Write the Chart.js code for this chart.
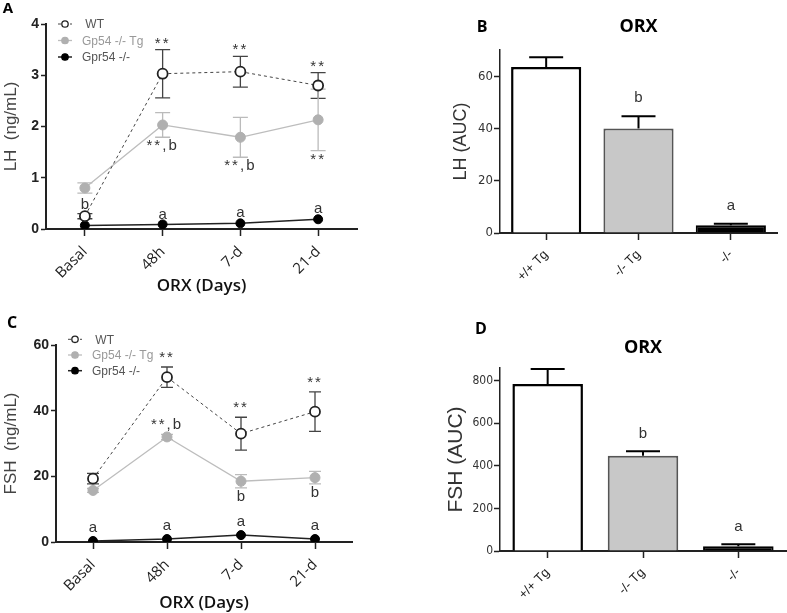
<!DOCTYPE html>
<html>
<head>
<meta charset="utf-8">
<script src="https://cdn.jsdelivr.net/npm/chart.js@4.4.0/dist/chart.umd.min.js"></script>
<style>
  body { margin: 0; background: #fff; width: 787px; height: 613px; position: relative; overflow: hidden; }
  canvas { position: absolute; }
</style>
</head>
<body>
<canvas id="lhLine" width="400" height="300" style="left:0;top:0"></canvas>
<canvas id="lhBar" width="387" height="300" style="left:400px;top:0"></canvas>
<canvas id="fshLine" width="400" height="313" style="left:0;top:300px"></canvas>
<canvas id="fshBar" width="387" height="313" style="left:400px;top:300px"></canvas>
<script>
// categories
const days = ['Basal', '48h', '7-d', '21-d'];
const groups = ['+/+ Tg', '-/- Tg', '-/-'];
const seriesNames = [' WT', 'Gp54 -/- Tg', 'Gpr54 -/-'];

// LH (ng/mL) over time
const lhWT = [0.25, 3.03, 3.07, 2.80];
const lhWTErr = [0.05, 0.47, 0.30, 0.25];
const lhTg = [0.80, 2.03, 1.79, 2.13];
const lhTgErr = [0.10, 0.24, 0.39, 0.60];
const lhKO = [0.07, 0.09, 0.11, 0.19];
const lhKOErr = [0.02, 0.02, 0.02, 0.03];

// FSH (ng/mL) over time
const fshWT = [19.3, 50.2, 33.0, 39.7];
const fshWTErr = [1.6, 3.1, 5.0, 6.0];
const fshTg = [15.7, 32.0, 18.5, 19.6];
const fshTgErr = [0.6, 0.8, 2.0, 1.9];
const fshKO = [0.3, 0.9, 2.1, 0.9];
const fshKOErr = [0.2, 0.3, 0.4, 0.3];

// AUC bars
const lhAUC = [63.5, 40.0, 3.0];
const lhAUCErr = [3.7, 4.7, 0.5];
const fshAUC = [785, 448, 22];
const fshAUCErr = [70, 21, 10];

// tick values
const lhTicks = [0, 1, 2, 3, 4];
const fshTicks = [0, 20, 40, 60];
const lhAUCTicks = [0, 20, 40, 60];
const fshAUCTicks = [0, 200, 400, 600, 800];

// significance marks: [series, point, text, side]
const lhNotes = [
  [0, 0, 'b', 'up'], [0, 1, '**', 'up'], [0, 2, '**', 'up'], [0, 3, '**', 'up'],
  [1, 1, '**,b', 'down'], [1, 2, '**,b', 'down'], [1, 3, '**', 'down'],
  [2, 1, 'a', 'up'], [2, 2, 'a', 'up'], [2, 3, 'a', 'up']
];
const fshNotes = [
  [0, 1, '**', 'up'], [0, 2, '**', 'up'], [0, 3, '**', 'up'],
  [1, 1, '**,b', 'up'], [1, 2, 'b', 'down'], [1, 3, 'b', 'down'],
  [2, 0, 'a', 'up'], [2, 1, 'a', 'up'], [2, 2, 'a', 'up'], [2, 3, 'a', 'up']
];
const lhAUCNotes = [[0, 1, 'b', 'up'], [0, 2, 'a', 'up']];
const fshAUCNotes = [[0, 1, 'b', 'up'], [0, 2, 'a', 'up']];

const SANS = "'Liberation Sans', Arial, sans-serif";
const NARROW = "'Liberation Sans Narrow', 'DejaVu Sans Condensed', 'Liberation Sans', sans-serif";
const OPEN = "'Open Sans', 'Liberation Sans', sans-serif";
Chart.defaults.font.family = SANS;
Chart.defaults.color = '#333';

// error bars, drawn under the markers
const errorBars = {
  id: 'errorBars',
  beforeDatasetsDraw(chart, args, opts) {
    const ctx = chart.ctx, y = chart.scales.y;
    (opts.sets || []).forEach((s, di) => {
      const meta = chart.getDatasetMeta(di);
      const vals = chart.data.datasets[di].data;
      ctx.save();
      ctx.strokeStyle = s.color;
      ctx.lineWidth = s.width;
      meta.data.forEach((el, i) => {
        const x = el.x, e = s.err[i], c = s.cap / 2;
        const top = y.getPixelForValue(vals[i] + e);
        const bot = s.upOnly ? y.getPixelForValue(vals[i]) : y.getPixelForValue(vals[i] - e);
        ctx.beginPath();
        ctx.moveTo(x, top); ctx.lineTo(x, bot);
        ctx.moveTo(x - c, top); ctx.lineTo(x + c, top);
        if (!s.upOnly) { ctx.moveTo(x - c, bot); ctx.lineTo(x + c, bot); }
        ctx.stroke();
      });
      ctx.restore();
    });
  }
};

// letters / stars above or below the error bars, plus panel letter, title and legend
const extras = {
  id: 'extras',
  afterDatasetsDraw(chart, args, opts) {
    const ctx = chart.ctx, y = chart.scales.y, ca = chart.chartArea;
    const sets = chart.options.plugins.errorBars.sets;
    ctx.save();
    ctx.fillStyle = '#333';
    ctx.textAlign = 'center';
    ctx.textBaseline = 'middle';
    ctx.font = '15px ' + SANS;
    (opts.notes || []).forEach(([si, i, txt, side]) => {
      const el = chart.getDatasetMeta(si).data[i];
      const v = chart.data.datasets[si].data[i];
      const e = sets[si].err[i];
      let py;
      if (side === 'up') py = y.getPixelForValue(v + e) - opts.gapUp;
      else py = y.getPixelForValue(sets[si].upOnly ? v : v - e) + opts.gapDown;
      if (txt.startsWith('*')) { ctx.letterSpacing = '2px'; py += 3; } else ctx.letterSpacing = '0px';
      ctx.fillText(txt, el.x, py);
    });
    ctx.letterSpacing = '0px';

    // panel letter
    ctx.fillStyle = '#000';
    ctx.textAlign = 'center';
    ctx.font = 'bold ' + opts.letterSize + 'px ' + OPEN;
    ctx.fillText(opts.letter, opts.letterX, opts.letterY);
    if (opts.title) {
      ctx.font = 'bold 18px ' + OPEN;
      ctx.fillText(opts.title, (ca.left + ca.right) / 2, opts.titleY);
    }

    // legend inside plot area
    if (opts.legend) {
      const L = opts.legend;
      ctx.font = L.size + 'px ' + SANS;
      ctx.textAlign = 'left';
      chart.data.datasets.forEach((ds, k) => {
        const ry = ca.top + L.top + k * L.step;
        const x0 = ca.left + 12, x1 = ca.left + 26;
        ctx.save();
        ctx.strokeStyle = ds.borderColor;
        ctx.lineWidth = ds.borderWidth;
        ctx.setLineDash(ds.borderDash || []);
        ctx.beginPath(); ctx.moveTo(x0, ry); ctx.lineTo(x1, ry); ctx.stroke();
        ctx.setLineDash([]);
        ctx.beginPath(); ctx.arc((x0 + x1) / 2, ry, 3.2, 0, Math.PI * 2);
        ctx.fillStyle = ds.pointBackgroundColor; ctx.fill();
        ctx.strokeStyle = ds.pointBorderColor; ctx.lineWidth = 1.3; ctx.stroke();
        ctx.restore();
        ctx.fillStyle = L.colors[k];
        ctx.fillText(seriesNames[k], ca.left + 36, ry + 1);
      });
    }
    ctx.restore();
  }
};

function lineSets(wt, tg, ko) {
  return [
    { label: seriesNames[0], data: wt, borderColor: '#444', borderWidth: 1, borderDash: [3, 3],
      pointRadius: 5, pointBackgroundColor: '#fff', pointBorderColor: '#222', pointBorderWidth: 1.8 },
    { label: seriesNames[1], data: tg, borderColor: '#bdbdbd', borderWidth: 1.3,
      pointRadius: 5, pointBackgroundColor: '#b0b0b0', pointBorderColor: '#b0b0b0', pointBorderWidth: 1 },
    { label: seriesNames[2], data: ko, borderColor: '#222', borderWidth: 1.5,
      pointRadius: 4.5, pointBackgroundColor: '#000', pointBorderColor: '#000', pointBorderWidth: 1 }
  ];
}

function lineChart(id, opt) {
  return new Chart(document.getElementById(id), {
    type: 'line',
    data: { labels: days, datasets: lineSets(opt.wt, opt.tg, opt.ko) },
    options: {
      responsive: false, animation: false,
      layout: { padding: { left: 0, top: opt.top, right: opt.right, bottom: 0 } },
      plugins: {
        legend: { display: false }, tooltip: { enabled: false },
        errorBars: { sets: [
          { err: opt.wtErr, color: '#444', width: 1.3, cap: opt.cap },
          { err: opt.tgErr, color: '#bbb', width: 1.3, cap: opt.cap },
          { err: opt.koErr, color: '#222', width: 1.2, cap: 6 }
        ] },
        extras: Object.assign({ notes: opt.notes }, opt.extras)
      },
      scales: {
        x: {
          offset: true,
          grid: { drawOnChartArea: false, offset: false, tickLength: 7, tickColor: '#222', tickWidth: 1.5 },
          border: { color: '#222', width: 2 },
          ticks: { autoSkip: false, maxRotation: 45, minRotation: 45, padding: 7, color: '#222',
                   font: { family: OPEN, size: 15 } },
          title: { display: true, text: 'ORX (Days)', color: '#111', padding: { top: 0, bottom: opt.xTitlePad },
                   font: { family: OPEN, size: 17, weight: '600' } },
          afterFit: s => { s.height = opt.xH; }
        },
        y: {
          min: 0, max: opt.max,
          afterBuildTicks: s => { s.ticks = opt.ticks.map(v => ({ value: v })); },
          grid: { drawOnChartArea: false, tickLength: 5, tickColor: '#222', tickWidth: 1.5 },
          border: { color: '#222', width: 2 },
          ticks: { color: '#222', padding: 2, font: { size: 14, weight: 'bold' } },
          title: { display: true, text: opt.yTitle, color: '#444', padding: { top: 1, bottom: 0 },
                   font: { size: 17 } },
          afterFit: s => { s.width = opt.yW; }
        }
      }
    },
    plugins: [errorBars, extras]
  });
}

function barChart(id, opt) {
  return new Chart(document.getElementById(id), {
    type: 'bar',
    data: { labels: groups, datasets: [{
      data: opt.vals,
      backgroundColor: ['#fff', '#c8c8c8', '#000'],
      borderColor: ['#000', '#555', '#000'],
      borderWidth: [2.5, 2, 2],
      barPercentage: opt.bp, categoryPercentage: 1
    }] },
    options: {
      responsive: false, animation: false,
      layout: { padding: { left: 40, top: opt.top, right: opt.right, bottom: 0 } },
      plugins: {
        legend: { display: false }, tooltip: { enabled: false },
        errorBars: { sets: [{ err: opt.err, color: '#000', width: 2, cap: 34, upOnly: true }] },
        extras: Object.assign({ notes: opt.notes }, opt.extras)
      },
      scales: {
        x: {
          grid: { drawOnChartArea: false, offset: false, tickLength: 7, tickColor: '#222', tickWidth: 1.5 },
          border: { color: '#222', width: 2 },
          ticks: { autoSkip: false, maxRotation: 45, minRotation: 45, padding: 7, color: '#222', font: { size: 13 } },
          afterFit: s => { s.height = opt.xH; }
        },
        y: {
          min: 0, max: opt.max,
          afterBuildTicks: s => { s.ticks = opt.ticks.map(v => ({ value: v })); },
          grid: { drawOnChartArea: false, tickLength: 6, tickColor: '#222', tickWidth: 1.5 },
          border: { color: '#222', width: 1.5 },
          ticks: { color: '#333', padding: 1, font: { family: NARROW, size: opt.tickSize } },
          title: { display: true, text: opt.yTitle, color: '#333', padding: { top: opt.yTitlePad, bottom: 0 },
                   font: { size: opt.yTitleSize } },
          afterFit: s => { s.width = opt.yW; }
        }
      }
    },
    plugins: [errorBars, extras]
  });
}

lineChart('lhLine', {
  wt: lhWT, tg: lhTg, ko: lhKO, wtErr: lhWTErr, tgErr: lhTgErr, koErr: lhKOErr,
  max: 4, ticks: lhTicks, yTitle: 'LH  (ng/mL)', notes: lhNotes,
  top: 24, right: 43, xH: 71, yW: 46, cap: 15, xTitlePad: 4,
  extras: { gapUp: 9, gapDown: 6, letter: 'A', letterSize: 15, letterX: 8, letterY: 9,
            legend: { top: 0, step: 16.5, size: 12, colors: ['#555', '#999', '#555'] } }
});

barChart('lhBar', {
  vals: lhAUC, err: lhAUCErr, max: 70, ticks: lhAUCTicks, yTitle: 'LH (AUC)', notes: lhAUCNotes,
  top: 50, right: 10, xH: 67, yW: 60, bp: 0.76, tickSize: 13, yTitleSize: 18, yTitlePad: 10,
  extras: { gapUp: 18, gapDown: 8, letter: 'B', letterSize: 16, letterX: 82, letterY: 27, title: 'ORX', titleY: 27 }
});

lineChart('fshLine', {
  wt: fshWT, tg: fshTg, ko: fshKO, wtErr: fshWTErr, tgErr: fshTgErr, koErr: fshKOErr,
  max: 60, ticks: fshTicks, yTitle: 'FSH  (ng/mL)', notes: fshNotes,
  top: 45, right: 48, xH: 71, yW: 56, cap: 12, xTitlePad: 0,
  extras: { gapUp: 12, gapDown: 9, letter: 'C', letterSize: 16, letterX: 12, letterY: 23,
            legend: { top: -5.7, step: 15.7, size: 12, colors: ['#555', '#999', '#555'] } }
});

barChart('fshBar', {
  vals: fshAUC, err: fshAUCErr, max: 860, ticks: fshAUCTicks, yTitle: 'FSH (AUC)', notes: fshAUCNotes,
  top: 68, right: 1, xH: 62, yW: 60, bp: 0.74, tickSize: 12, yTitleSize: 21, yTitlePad: 4,
  extras: { gapUp: 17, gapDown: 8, letter: 'D', letterSize: 16, letterX: 81, letterY: 29, title: 'ORX', titleY: 48 }
});
</script>
</body>
</html>
